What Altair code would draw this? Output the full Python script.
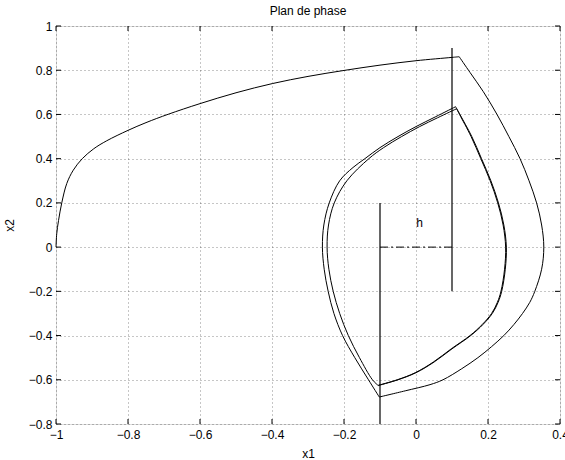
import altair as alt
import pandas as pd

# Phase-plane trajectory (x1, x2), split at the relay switching instants.
# Each arc is drawn as a smooth curve; the kinks sit between arcs.
arc_a_x1 = [-1.0, -0.998, -0.993, -0.984, -0.970, -0.952, -0.927, -0.895, -0.859, -0.800,
            -0.750, -0.688, -0.600, -0.500, -0.398, -0.300, -0.200, -0.100, 0.000, 0.100, 0.120]
arc_a_x2 = [0.0, 0.06, 0.12, 0.20, 0.288, 0.348, 0.400, 0.445, 0.481, 0.528,
            0.563, 0.601, 0.649, 0.698, 0.740, 0.772, 0.799, 0.823, 0.843, 0.858, 0.861]

arc_b_x1 = [0.120, 0.150, 0.187, 0.225, 0.258, 0.289, 0.314, 0.335, 0.349, 0.355,
            0.349, 0.330, 0.316, 0.296, 0.272, 0.244, 0.210, 0.172, 0.127, 0.075, 0.039, -0.030, -0.102]
arc_b_x2 = [0.861, 0.790, 0.703, 0.600, 0.500, 0.400, 0.300, 0.200, 0.100, 0.000,
            -0.100, -0.200, -0.250, -0.300, -0.350, -0.400, -0.450, -0.500, -0.550, -0.600, -0.622, -0.650, -0.678]

arc_c1_x1 = [-0.102, -0.132, -0.170, -0.204, -0.228, -0.244, -0.255, -0.260, -0.256, -0.241,
             -0.212, -0.175, -0.142, -0.100, -0.050, 0.000, 0.055, 0.110]
arc_c1_x2 = [-0.678, -0.600, -0.500, -0.400, -0.300, -0.200, -0.100, 0.000, 0.100, 0.200,
             0.300, 0.360, 0.400, 0.450, 0.500, 0.545, 0.590, 0.635]

arc_d1_x1 = [0.110, 0.122, 0.155, 0.182, 0.208, 0.229, 0.244, 0.251, 0.248, 0.238,
             0.228, 0.212, 0.186, 0.152, 0.100, 0.050, 0.000, -0.050, -0.105]
arc_d1_x2 = [0.635, 0.600, 0.500, 0.400, 0.300, 0.200, 0.100, 0.000, -0.100, -0.200,
             -0.250, -0.300, -0.350, -0.400, -0.460, -0.520, -0.568, -0.600, -0.626]

arc_c2_x1 = [-0.105, -0.121, -0.157, -0.188, -0.212, -0.230, -0.242, -0.247, -0.243, -0.227,
             -0.192, -0.131, -0.090, -0.040, 0.010, 0.060, 0.113]
arc_c2_x2 = [-0.626, -0.600, -0.500, -0.400, -0.300, -0.200, -0.100, 0.000, 0.100, 0.200,
             0.300, 0.400, 0.450, 0.500, 0.545, 0.585, 0.626]

arc_d2_x1 = [0.113, 0.121, 0.153, 0.180, 0.206, 0.227, 0.242, 0.249, 0.246, 0.236,
             0.226, 0.210, 0.184, 0.150, 0.098, 0.048, -0.002, -0.052, -0.105]
arc_d2_x2 = [0.626, 0.600, 0.500, 0.400, 0.300, 0.200, 0.100, 0.000, -0.100, -0.200,
             -0.250, -0.300, -0.350, -0.400, -0.460, -0.520, -0.568, -0.600, -0.625]

arcs = [
    (arc_a_x1, arc_a_x2), (arc_b_x1, arc_b_x2),
    (arc_c1_x1, arc_c1_x2), (arc_d1_x1, arc_d1_x2),
    (arc_c2_x1, arc_c2_x2), (arc_d2_x1, arc_d2_x2),
]

# Switching lines of the relay and the hysteresis width h
switch_x = [0.1, -0.1]
switch_y_lo = [-0.2, -0.8]
switch_y_hi = [0.9, 0.2]
h_x = [-0.1, 0.1]
h_y = [0.0, 0.0]
h_label_pos = (0.01, 0.11)

x_ticks = [-1, -0.8, -0.6, -0.4, -0.2, 0, 0.2, 0.4]
y_ticks = [-0.8, -0.6, -0.4, -0.2, 0, 0.2, 0.4, 0.6, 0.8, 1]

FONT = "Liberation Sans"
W, H = 504, 398
TICK = 5

rows = []
for seg, (xs_, ys_) in enumerate(arcs):
    for k, (a, b) in enumerate(zip(xs_, ys_)):
        rows.append({"x1": a, "x2": b, "seg": seg, "k": k})
traj = pd.DataFrame(rows)

switches = pd.DataFrame({"x": switch_x, "y": switch_y_lo, "y2": switch_y_hi})
hline = pd.DataFrame({"x": [h_x[0]], "x2": [h_x[1]], "y": [h_y[0]]})
hlabel = pd.DataFrame({"x": [h_label_pos[0]], "y": [h_label_pos[1]], "t": ["h"]})
xt = pd.DataFrame({"v": x_ticks})
yt = pd.DataFrame({"v": y_ticks})

xs = alt.Scale(domain=[-1, 0.4], nice=False, zero=False)
ys = alt.Scale(domain=[-0.8, 1], nice=False, zero=False)

axis_style = dict(
    grid=True, ticks=False, domain=False, format="~g",
    labelFlush=False, labelOverlap=False, labelBound=False,
    labelFont=FONT, labelFontSize=12, labelColor="black",
    titleFont=FONT, titleFontSize=12, titleColor="black", titleFontWeight="normal",
    gridColor="#000000", gridDash=[1, 3], gridWidth=1, gridOpacity=0.45,
)
x_axis = alt.Axis(values=x_ticks, title="x1", labelPadding=5, titlePadding=8, **axis_style)
y_axis = alt.Axis(values=y_ticks, title="x2", labelPadding=4, titlePadding=12, **axis_style)

path = alt.Chart(traj).mark_line(color="black", strokeWidth=1, interpolate="catmull-rom").encode(
    x=alt.X("x1:Q", scale=xs, axis=x_axis),
    y=alt.Y("x2:Q", scale=ys, axis=y_axis),
    detail="seg:N",
    order="k:Q",
)

sw = alt.Chart(switches).mark_rule(color="black", strokeWidth=1.2).encode(
    x="x:Q", y="y:Q", y2="y2:Q"
)

hl = alt.Chart(hline).mark_rule(color="black", strokeWidth=1, strokeDash=[8, 3, 2, 3]).encode(
    x="x:Q", x2="x2:Q", y="y:Q"
)

ht = alt.Chart(hlabel).mark_text(font=FONT, fontSize=12, color="black").encode(
    x="x:Q", y="y:Q", text="t:N"
)

# inward-pointing tick marks on all four sides of the frame
tb = alt.Chart(xt).mark_rule(color="black", strokeWidth=1).encode(
    x="v:Q", y=alt.value(H), y2=alt.value(H - TICK)
)
tt = alt.Chart(xt).mark_rule(color="black", strokeWidth=1).encode(
    x="v:Q", y=alt.value(0), y2=alt.value(TICK)
)
tl = alt.Chart(yt).mark_rule(color="black", strokeWidth=1).encode(
    y="v:Q", x=alt.value(0), x2=alt.value(TICK)
)
tr = alt.Chart(yt).mark_rule(color="black", strokeWidth=1).encode(
    y="v:Q", x=alt.value(W), x2=alt.value(W - TICK)
)

chart = (
    alt.layer(path, sw, hl, ht, tb, tt, tl, tr)
    .properties(
        width=W,
        height=H,
        title=alt.TitleParams("Plan de phase", font=FONT, fontSize=12,
                              fontWeight="normal", color="black", offset=2),
        autosize=alt.AutoSizeParams(type="none"),
        padding={"left": 56, "top": 26, "right": 5, "bottom": 36},
    )
    .configure_view(stroke="black", strokeWidth=1.5)
    .configure(background="white")
)

chart.save("out.html", embed_options={"renderer": "svg", "actions": False})
